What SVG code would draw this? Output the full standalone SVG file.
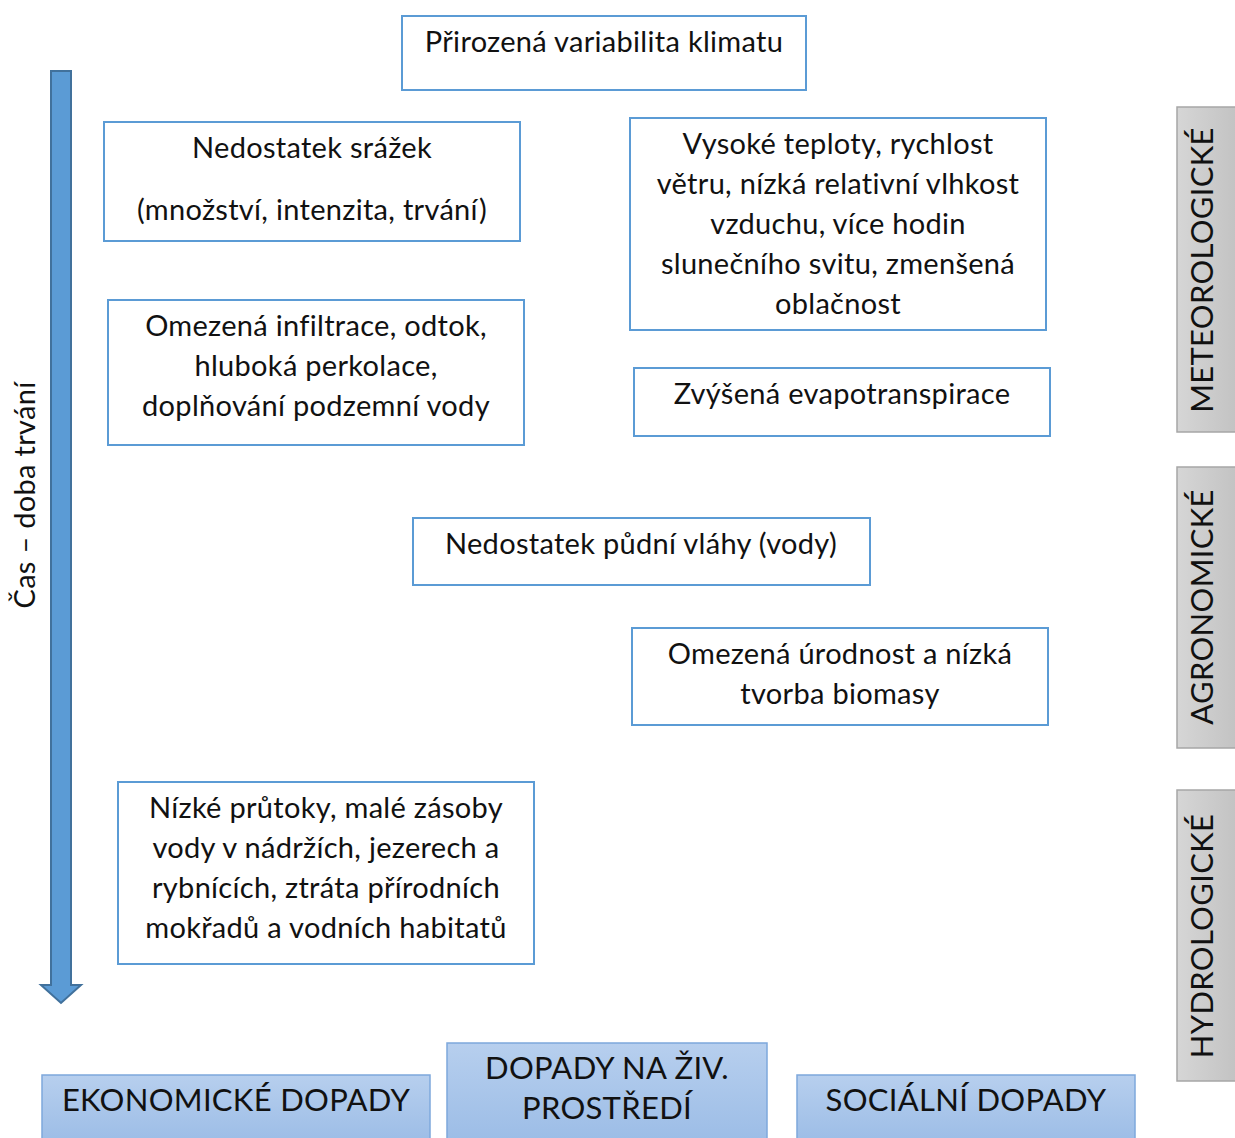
<svg xmlns="http://www.w3.org/2000/svg" width="1235" height="1138" viewBox="0 0 1235 1138">
<defs>
<linearGradient id="blueG" x1="0" y1="0" x2="0" y2="1">
<stop offset="0" stop-color="#b7cfee"/>
<stop offset="1" stop-color="#9bbce6"/>
</linearGradient>
<linearGradient id="grayG" x1="0" y1="0" x2="1" y2="0">
<stop offset="0" stop-color="#d6d6d6"/>
<stop offset="1" stop-color="#c2c2c2"/>
</linearGradient>
<style>
.box{fill:#ffffff;stroke:#5b9bd5;stroke-width:2}
.impact{fill:url(#blueG);stroke:#7ea8dc;stroke-width:1.5}
.side{fill:url(#grayG);stroke:#a6a6a6;stroke-width:1.5}
text{font-family:"Lato","Open Sans","DejaVu Sans",sans-serif;font-size:29px;letter-spacing:0.3px;fill:#111;text-anchor:middle}
.cap{font-size:31px}
</style>
</defs>
<g id="connectors">
<path id="time-arrow" d="M51,71 H71 V985 H81 L61,1003 L41,985 H51 Z" fill="#5b9bd5" stroke="#41719c" stroke-width="2"/>
</g>
<g id="n-time"><text transform="translate(35,495) rotate(-90)">Čas – doba trvání</text></g>
<g id="n-climate"><rect class="box" x="402" y="16" width="404" height="74"/><text x="604" y="52">Přirozená variabilita klimatu</text></g>
<g id="n-precip"><rect class="box" x="104" y="122" width="416" height="119"/><text x="312" y="158">Nedostatek srážek</text><text x="312" y="220">(množství, intenzita, trvání)</text></g>
<g id="n-temp"><rect class="box" x="630" y="118" width="416" height="212"/><text x="838" y="154">Vysoké teploty, rychlost</text><text x="838" y="194">větru, nízká relativní vlhkost</text><text x="838" y="234">vzduchu, více hodin</text><text x="838" y="274">slunečního svitu, zmenšená</text><text x="838" y="314">oblačnost</text></g>
<g id="n-infil"><rect class="box" x="108" y="300" width="416" height="145"/><text x="316" y="336">Omezená infiltrace, odtok,</text><text x="316" y="376">hluboká perkolace,</text><text x="316" y="416">doplňování podzemní vody</text></g>
<g id="n-evapo"><rect class="box" x="634" y="368" width="416" height="68"/><text x="842" y="404">Zvýšená evapotranspirace</text></g>
<g id="n-soil"><rect class="box" x="413" y="518" width="457" height="67"/><text x="641" y="554">Nedostatek půdní vláhy (vody)</text></g>
<g id="n-yield"><rect class="box" x="632" y="628" width="416" height="97"/><text x="840" y="664">Omezená úrodnost a nízká</text><text x="840" y="704">tvorba biomasy</text></g>
<g id="n-flow"><rect class="box" x="118" y="782" width="416" height="182"/><text x="326" y="818">Nízké průtoky, malé zásoby</text><text x="326" y="858">vody v nádržích, jezerech a</text><text x="326" y="898">rybnících, ztráta přírodních</text><text x="326" y="938">mokřadů a vodních habitatů</text></g>
<g id="n-econ"><rect class="impact" x="42" y="1075" width="388" height="70"/><text class="cap" x="236" y="1111">EKONOMICKÉ DOPADY</text></g>
<g id="n-env"><rect class="impact" x="447" y="1043" width="320" height="102"/><text class="cap" x="607" y="1079">DOPADY NA ŽIV.</text><text class="cap" x="607" y="1119">PROSTŘEDÍ</text></g>
<g id="n-social"><rect class="impact" x="797" y="1075" width="338" height="70"/><text class="cap" x="966" y="1111">SOCIÁLNÍ DOPADY</text></g>
<g id="n-meteo"><rect class="side" x="1177" y="107" width="62" height="325"/><text class="cap" transform="translate(1213,270) rotate(-90)">METEOROLOGICKÉ</text></g>
<g id="n-agro"><rect class="side" x="1177" y="467" width="62" height="281"/><text class="cap" transform="translate(1213,607) rotate(-90)">AGRONOMICKÉ</text></g>
<g id="n-hydro"><rect class="side" x="1177" y="790" width="62" height="291"/><text class="cap" transform="translate(1213,936) rotate(-90)">HYDROLOGICKÉ</text></g>
</svg>
